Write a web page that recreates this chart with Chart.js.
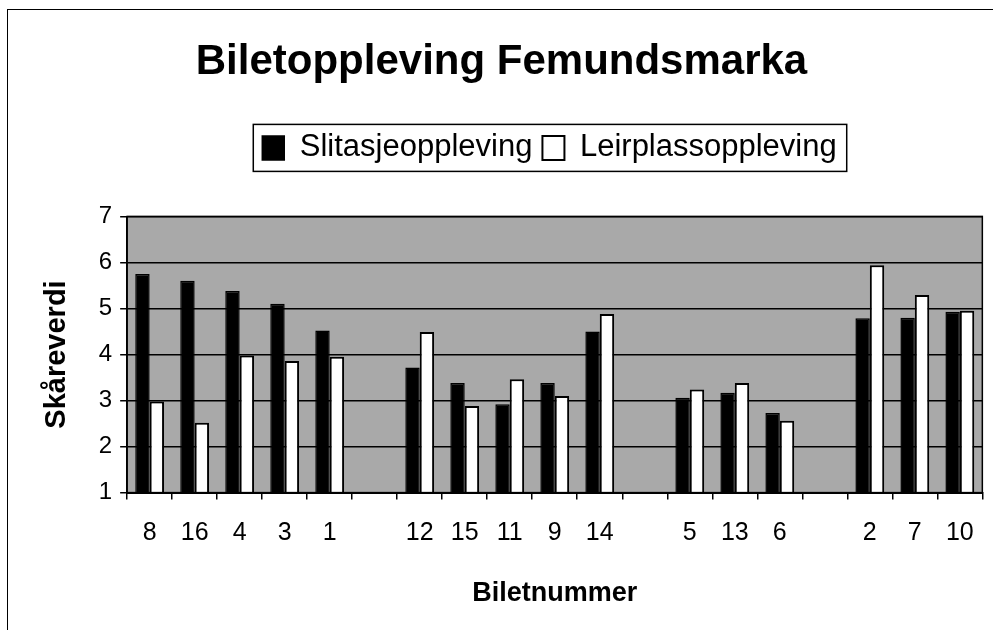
<!DOCTYPE html>
<html>
<head>
<meta charset="utf-8">
<script src="https://cdn.jsdelivr.net/npm/chart.js@4/dist/chart.umd.min.js"></script>
<style>
  html, body { margin: 0; padding: 0; background: #fff; }
  #wrap { position: relative; width: 993px; height: 630px; overflow: hidden; }
  #frame { position: absolute; left: 7px; top: 9px; width: 990px; height: 640px; border-left: 1px solid #000; border-top: 1px solid #000; }
  canvas { position: absolute; left: 0; top: 0; }
</style>
</head>
<body>
<div id="wrap"><div id="frame"></div><canvas id="chart" width="993" height="630"></canvas></div>
<script>
// biletnummer, empty strings are the gaps between groups
const bilete = ['8', '16', '4', '3', '1', '', '12', '15', '11', '9', '14', '', '5', '13', '6', '', '2', '7', '10'];
const slitasje = [5.75, 5.6, 5.38, 5.1, 4.52, null, 3.72, 3.38, 2.92, 3.38, 4.5, null, 3.06, 3.17, 2.73, null, 4.79, 4.8, 4.93];
const leirplass = [2.98, 2.52, 3.98, 3.86, 3.95, null, 4.49, 2.88, 3.46, 3.1, 4.88, null, 3.24, 3.38, 2.56, null, 5.94, 5.29, 4.95];
const yTicks = [1, 2, 3, 4, 5, 6, 7];

const fontFam = '"Liberation Sans", Arial, sans-serif';
const legendShift = 48;

const plotBg = {
    id: 'plotBg',
    beforeInit(chart) {
        const lg = chart.legend;
        // extra room under the legend
        const fit = lg.fit;
        lg.fit = function() {
            fit.call(lg);
            this.height += 43;
        };
        // legend sits a bit right of centre
        const draw = lg.draw;
        lg.draw = function() {
            const ctx = chart.ctx;
            ctx.save();
            ctx.translate(legendShift, 0);
            draw.call(lg);
            const boxes = lg.legendHitBoxes;
            if (boxes && boxes.length) {
                const l = Math.min(...boxes.map(b => b.left)) - 9;
                const r = Math.max(...boxes.map(b => b.left + b.width)) + 10;
                const t = Math.min(...boxes.map(b => b.top)) - 8;
                const btm = Math.max(...boxes.map(b => b.top + b.height)) + 8;
                ctx.strokeStyle = '#000';
                ctx.lineWidth = 1.5;
                ctx.strokeRect(l, t, r - l, btm - t);
            }
            ctx.restore();
        };
    },
    beforeDraw(chart) {
        const a = chart.chartArea;
        const ctx = chart.ctx;
        ctx.save();
        ctx.fillStyle = '#a9a9a9';
        ctx.fillRect(a.left, a.top, a.right - a.left, a.bottom - a.top);
        ctx.restore();
    },
    afterDraw(chart) {
        const a = chart.chartArea;
        const ctx = chart.ctx;
        ctx.save();
        ctx.strokeStyle = '#000';
        ctx.lineWidth = 1.5;
        ctx.strokeRect(a.left, a.top, a.right - a.left, a.bottom - a.top);
        ctx.restore();
    }
};

new Chart(document.getElementById('chart').getContext('2d'), {
    type: 'bar',
    data: {
        labels: bilete,
        datasets: [{
            label: 'Slitasjeoppleving',
            data: slitasje,
            backgroundColor: '#000',
            borderColor: '#000',
            borderWidth: 1.5,
            categoryPercentage: 0.64,
            barPercentage: 1.0
        }, {
            label: 'Leirplassoppleving',
            data: leirplass,
            backgroundColor: '#fff',
            borderColor: '#000',
            borderWidth: 2,
            categoryPercentage: 0.64,
            barPercentage: 1.0
        }]
    },
    options: {
        responsive: false,
        animation: false,
        layout: { padding: { left: 20, right: 10, top: 0, bottom: 20 } },
        plugins: {
            title: {
                display: true,
                text: 'Biletoppleving Femundsmarka',
                color: '#000',
                font: { family: fontFam, size: 42, weight: 'bold' },
                padding: { top: 37, bottom: 35 }
            },
            legend: {
                display: true,
                position: 'top',
                labels: {
                    color: '#000',
                    font: { family: fontFam, size: 31 },
                    boxWidth: 22,
                    boxHeight: 24,
                    padding: 10
                }
            },
            tooltip: { enabled: false }
        },
        scales: {
            x: {
                offset: true,
                grid: {
                    offset: true,
                    drawOnChartArea: false,
                    color: '#000',
                    lineWidth: 1.5,
                    tickLength: 7
                },
                border: { color: '#000', width: 2 },
                ticks: {
                    color: '#000',
                    font: { family: fontFam, size: 25 },
                    maxRotation: 0,
                    autoSkip: false,
                    padding: 19
                },
                title: {
                    display: true,
                    text: 'Biletnummer',
                    color: '#000',
                    font: { family: fontFam, size: 27, weight: 'bold' },
                    padding: { top: 10, bottom: 0 }
                }
            },
            y: {
                min: 1,
                max: 7,
                afterBuildTicks(axis) {
                    axis.ticks = yTicks.map(v => ({ value: v }));
                },
                grid: {
                    color: '#000',
                    lineWidth: 1.5,
                    tickLength: 7
                },
                border: { color: '#000', width: 1.5 },
                ticks: {
                    color: '#000',
                    font: { family: fontFam, size: 24 },
                    padding: 8
                },
                title: {
                    display: true,
                    text: 'Skåreverdi',
                    color: '#000',
                    font: { family: fontFam, size: 29, weight: 'bold' },
                    padding: { top: 20, bottom: 16 }
                }
            }
        }
    },
    plugins: [plotBg]
});
</script>
</body>
</html>
